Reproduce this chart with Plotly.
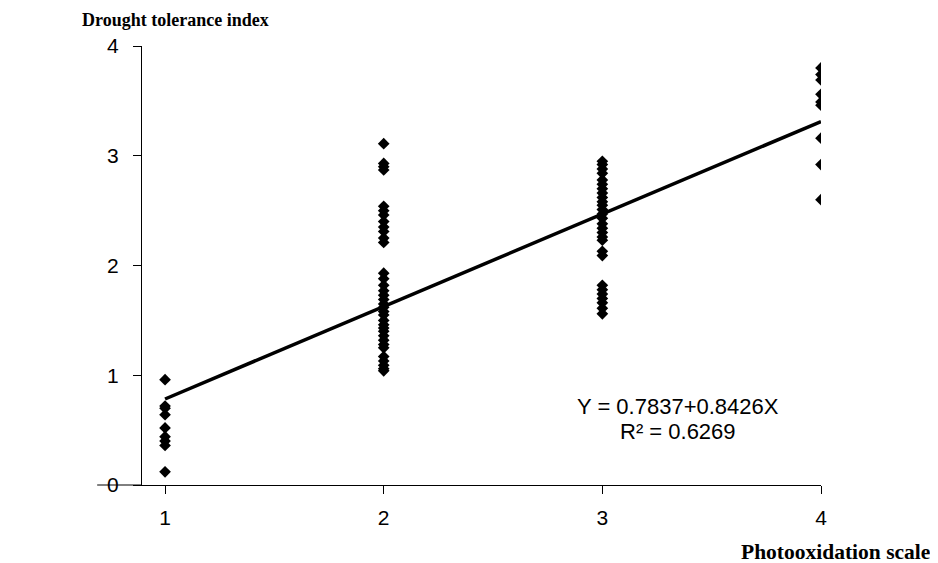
import plotly.graph_objects as go

# Data
x1_vals = [0.96, 0.72, 0.70, 0.64, 0.52, 0.44, 0.40, 0.36, 0.12]
x2_vals = [3.11, 2.93, 2.90, 2.87, 2.54, 2.50, 2.46, 2.40, 2.35, 2.31, 2.25, 2.21,
           1.93, 1.88, 1.82, 1.77, 1.73, 1.69, 1.65, 1.62, 1.58, 1.55, 1.50, 1.46,
           1.43, 1.40, 1.36, 1.32, 1.28, 1.25, 1.17, 1.13, 1.09, 1.06, 1.04]
x3_vals = [2.95, 2.92, 2.88, 2.84, 2.78, 2.74, 2.70, 2.66, 2.62, 2.58, 2.55, 2.51,
           2.47, 2.43, 2.38, 2.34, 2.30, 2.26, 2.23, 2.13, 2.09, 1.82, 1.78, 1.74,
           1.70, 1.66, 1.61, 1.56]
x4_vals = [3.80, 3.74, 3.69, 3.56, 3.49, 3.46, 3.16, 2.92, 2.60]

fit_slope = 0.8426
fit_intercept = -0.0589
fit_x = [1, 4]

eq_line1 = "Y = 0.7837+0.8426X"
eq_line2 = "R² = 0.6269"
x_title = "Photooxidation scale"
y_title = "Drought tolerance index"
x_ticks = [1, 2, 3, 4]
y_ticks = [0, 1, 2, 3, 4]

xs, ys = [], []
for xv, vals in zip(x_ticks, [x1_vals, x2_vals, x3_vals, x4_vals]):
    xs += [xv] * len(vals)
    ys += vals

fit_y = [fit_intercept + fit_slope * v for v in fit_x]

fig = go.Figure()
fig.add_trace(go.Scatter(x=xs, y=ys, mode="markers",
                         marker=dict(symbol="diamond", size=9, color="black"),
                         showlegend=False, hoverinfo="skip"))
fig.add_trace(go.Scatter(x=fit_x, y=fit_y, mode="lines",
                         line=dict(color="black", width=3.5),
                         showlegend=False, hoverinfo="skip"))

tick_font = dict(family="Liberation Sans, Arial", size=21, color="black")
eq_font = dict(family="Liberation Sans, Arial", size=22, color="black")

fig.update_layout(
    width=930, height=555,
    margin=dict(l=134, r=117, t=38, b=78),
    plot_bgcolor="white", paper_bgcolor="white",
    xaxis=dict(range=[0.8946, 4], tickvals=x_ticks, showgrid=False, zeroline=False,
               showline=True, linecolor="black", linewidth=1,
               ticks="outside", ticklen=8, tickcolor="black",
               tickfont=tick_font, ticklabelstandoff=6),
    yaxis=dict(range=[0, 4], tickvals=y_ticks, showgrid=False, zeroline=False,
               showline=True, linecolor="black", linewidth=1,
               ticks="outside", ticklen=8, tickcolor="black",
               tickfont=tick_font, ticklabelstandoff=10),
    annotations=[
        dict(text=eq_line1, x=3.345, y=0.711, xref="x", yref="y",
             showarrow=False, font=eq_font, xanchor="center", yanchor="middle"),
        dict(text=eq_line2, x=3.345, y=0.492, xref="x", yref="y",
             showarrow=False, font=eq_font, xanchor="center", yanchor="middle"),
        dict(text="<b>" + y_title + "</b>", x=-0.0913, y=1.059, xref="paper", yref="paper",
             showarrow=False, xanchor="left", yanchor="middle",
             font=dict(family="Liberation Serif, Times New Roman", size=18, color="black")),
        dict(text="<b>" + x_title + "</b>", x=1.1635, y=-0.1526, xref="paper", yref="paper",
             showarrow=False, xanchor="right", yanchor="middle",
             font=dict(family="Liberation Serif, Times New Roman", size=21.5, color="black")),
    ],
    shapes=[dict(type="line", xref="paper", yref="paper", x0=-0.066, x1=0, y0=0, y1=0,
                 line=dict(color="black", width=1))],
)

fig.write_html("out.html")
